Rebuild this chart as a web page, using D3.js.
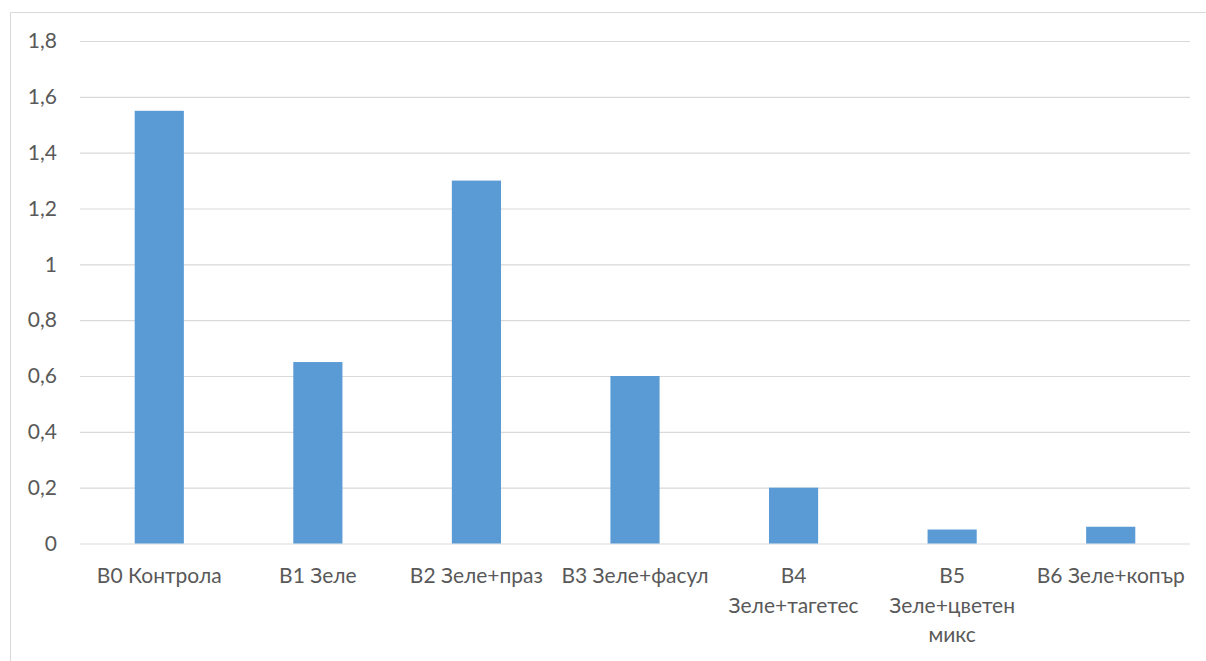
<!DOCTYPE html>
<html>
<head>
<meta charset="utf-8">
<script src="https://cdn.jsdelivr.net/npm/d3@7"></script>
<style>
  html, body { margin: 0; padding: 0; background: #fff; }
  svg { display: block; }
</style>
</head>
<body>
<script>
const categories = [
  ["B0 Контрола"],
  ["B1 Зеле"],
  ["B2 Зеле+праз"],
  ["B3 Зеле+фасул"],
  ["B4", "Зеле+тагетес"],
  ["B5", "Зеле+цветен", "микс"],
  ["B6 Зеле+копър"]
];
const values = [1.55, 0.65, 1.30, 0.60, 0.20, 0.05, 0.06];
const yTicks = [0, 0.2, 0.4, 0.6, 0.8, 1, 1.2, 1.4, 1.6, 1.8];

const W = 1206, H = 661;
const svg = d3.select("body").append("svg").attr("width", W).attr("height", H);
const font = "Lato, 'Open Sans', sans-serif";
const textColor = "#595959";

// chart frame
svg.append("path")
  .attr("d", `M10.5,${H} V12.5 H${W}`)
  .attr("fill", "none").attr("stroke", "#d9d9d9").attr("stroke-width", 1);

const plot = { left: 80, right: 1190, top: 41, bottom: 543.5 };
const keys = categories.map(c => c.join(" "));

const x = d3.scaleBand().domain(keys).range([plot.left, plot.right])
  .paddingInner(0.69).paddingOuter(0.345);
const y = d3.scaleLinear().domain([0, 1.8]).range([plot.bottom, plot.top]);

// gridlines
const yAxis = d3.axisLeft(y).tickValues(yTicks).tickSize(-(plot.right - plot.left))
  .tickFormat(d => String(d).replace(".", ","));
const gy = svg.append("g").attr("transform", `translate(${plot.left},0)`).call(yAxis);
gy.select(".domain").remove();
gy.selectAll(".tick line").attr("stroke", "#d9d9d9").attr("stroke-width", 1.2);
gy.selectAll(".tick text")
  .attr("x", -23).attr("fill", textColor)
  .style("font-family", font).style("font-size", "21px");

// bars
svg.append("g").selectAll("rect").data(values).join("rect")
  .attr("x", (d, i) => x(keys[i]))
  .attr("width", x.bandwidth())
  .attr("y", d => y(d))
  .attr("height", d => y(0) - y(d))
  .attr("fill", "#5b9bd5");

// category labels
const gx = svg.append("g");
categories.forEach((lines, i) => {
  const t = gx.append("text")
    .attr("x", x(keys[i]) + x.bandwidth() / 2)
    .attr("y", 583)
    .attr("text-anchor", "middle")
    .attr("fill", textColor)
    .style("font-family", font).style("font-size", "21px");
  lines.forEach((ln, j) => {
    t.append("tspan").attr("x", x(keys[i]) + x.bandwidth() / 2)
      .attr("dy", j === 0 ? 0 : 29.5).text(ln);
  });
});
</script>
</body>
</html>
